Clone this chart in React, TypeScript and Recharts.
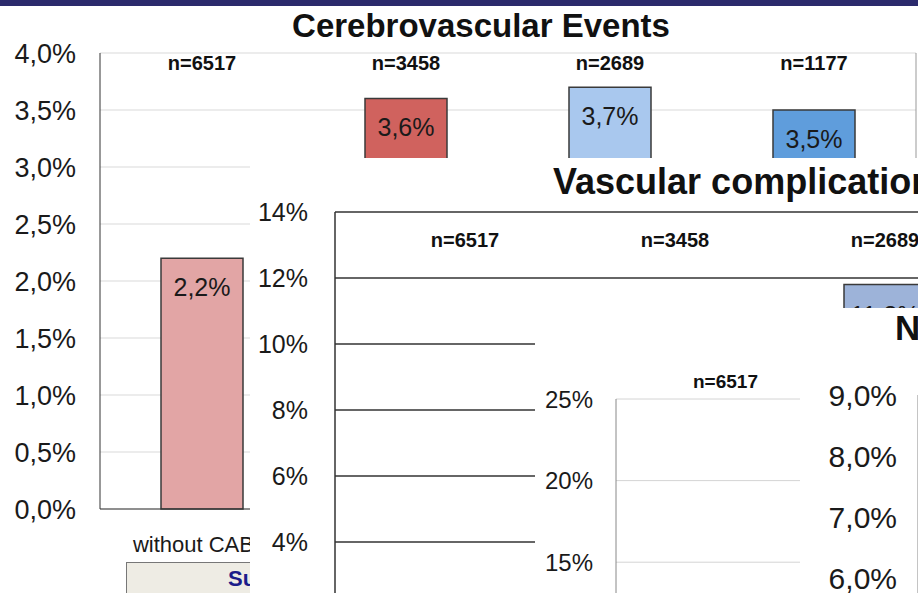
import React from "react";
import {
  Bar,
  BarChart,
  CartesianGrid,
  Cell,
  LabelList,
  XAxis,
  YAxis,
} from "recharts";

// shared categories (same patient groups in every panel)
const groups = ["without CABG", "with CABG", "CABG < 1 year", "CABG ≥ 1 year"];
const groupSizes = ["n=6517", "n=3458", "n=2689", "n=1177"];

const cerebroValues = [2.2, 3.6, 3.7, 3.5];
const cerebroTicks = [0, 0.5, 1, 1.5, 2, 2.5, 3, 3.5, 4];
const cerebroColors = ["#e2a5a5", "#d0625e", "#a9c8ee", "#5f9ddc"];

const vascularValues = [2.1, 9.8, 11.8, 10.6];
const vascularTicks = [0, 2, 4, 6, 8, 10, 12, 14];
const vascularColors = ["#dca2a2", "#c9615d", "#9db3d9", "#5b8fce"];

const thirdValues = [10.8, 12.4, 12.9, 11.7];
const thirdTicks = [0, 5, 10, 15, 20, 25];

const fourthValues = [6.4, 7.6, 8.2, 7.3];
const fourthTicks = [0, 1, 2, 3, 4, 5, 6, 7, 8, 9];

const FONT = "'Liberation Sans', Arial, sans-serif";

const rows = (values: number[]) =>
  groups.map((g, i) => ({ group: g, n: groupSizes[i], v: values[i] }));

const pctComma = (v: number) => v.toFixed(1).replace(".", ",") + "%";
const pctInt = (v: number) => `${v}%`;

// "n=" labels sit at a fixed height relative to the plot top, centred on each bar
const nLabel = (plotTop: number, dy: number, size: number) => (props: any) => {
  const vb = props.viewBox || props;
  const x = Number(vb.x) + Number(vb.width) / 2;
  return (
    <text
      x={x}
      y={plotTop + dy}
      textAnchor="middle"
      fontSize={size}
      fontWeight="bold"
      fontFamily={FONT}
      fill="#111"
    >
      {props.value}
    </text>
  );
};

const panel = (left: number, top: number, width: number, height: number) =>
  ({
    position: "absolute",
    left,
    top,
    width,
    height,
    overflow: "hidden",
    background: "#fff",
  }) as React.CSSProperties;

const title = (left: number, top: number, size: number, text: string) => (
  <div
    style={{
      position: "absolute",
      left,
      top,
      whiteSpace: "nowrap",
      fontFamily: FONT,
      fontWeight: "bold",
      fontSize: size,
      lineHeight: 1,
      color: "#111",
      zIndex: 2,
    }}
  >
    {text}
  </div>
);

const App = () => {
  return (
    <div
      style={{
        position: "absolute",
        left: 0,
        top: 0,
        width: 918,
        height: 593,
        overflow: "hidden",
        background: "#fff",
      }}
    >
      <div style={{ position: "absolute", left: 0, top: 0, width: 918, height: 6, background: "#2b2a6c" }} />

      {/* Cerebrovascular Events */}
      <div style={panel(0, 6, 918, 587)}>
        <div style={{ position: "absolute", left: 0, width: 918, top: 3, textAlign: "center", paddingLeft: 44, boxSizing: "border-box", fontFamily: FONT, fontWeight: "bold", fontSize: 33, lineHeight: 1, color: "#111", zIndex: 2 }}>
          Cerebrovascular Events
        </div>
        <BarChart
          width={918}
          height={587}
          data={rows(cerebroValues)}
          margin={{ top: 47, right: 0, left: 0, bottom: 24 }}
          barSize={82}
        >
          <CartesianGrid vertical={false} stroke="#d9d9d9" />
          <XAxis
            dataKey="group"
            height={60}
            interval={0}
            tickLine={false}
            tickMargin={21}
            axisLine={{ stroke: "#333" }}
            tick={{ fontSize: 22, fill: "#1a1a1a", fontFamily: FONT }}
          />
          <YAxis
            domain={[0, 4]}
            ticks={cerebroTicks}
            width={100}
            tickSize={0}
            tickMargin={24}
            tickFormatter={pctComma}
            axisLine={{ stroke: "#333" }}
            tick={{ fontSize: 27, fill: "#1a1a1a", fontFamily: FONT }}
          />
          <YAxis yAxisId="r" orientation="right" width={2} tick={false} axisLine={{ stroke: "#999" }} />
          <Bar dataKey="v" stroke="#3a3a3a" strokeWidth={1.5} isAnimationActive={false}>
            {cerebroColors.map((c, i) => (
              <Cell key={i} fill={c} />
            ))}
            <LabelList
              dataKey="v"
              position="insideTop"
              offset={20}
              formatter={(v: any) => pctComma(Number(v))}
              fill="#1a1a1a"
              fontSize={25}
              fontFamily={FONT}
            />
            <LabelList dataKey="n" content={nLabel(47, 17, 20)} />
          </Bar>
        </BarChart>
        <div style={{ position: "absolute", left: 126, top: 556, width: 300, height: 40, background: "#eeece4", border: "1px solid #777" }}>
          <span style={{ position: "absolute", left: 101, top: 5, fontFamily: FONT, fontWeight: "bold", fontSize: 22, lineHeight: 1, color: "#1c1c8a", whiteSpace: "nowrap" }}>
            Surgical risk
          </span>
        </div>
      </div>

      {/* Vascular complications */}
      <div style={panel(250, 158, 668, 435)}>
        {title(303, 6, 36, "Vascular complications")}
        <BarChart
          width={950}
          height={560}
          data={rows(vascularValues)}
          margin={{ top: 54, right: 0, left: 0, bottom: 14 }}
          barSize={82}
        >
          <CartesianGrid vertical={false} stroke="#333" strokeWidth={1.5} />
          <XAxis dataKey="group" height={30} interval={0} padding={{ left: 25 }} tickLine={false} axisLine={{ stroke: "#333" }} tick={{ fontSize: 22, fontFamily: FONT }} />
          <YAxis
            domain={[0, 14]}
            ticks={vascularTicks}
            width={85}
            tickSize={0}
            tickMargin={27}
            tickFormatter={pctInt}
            axisLine={{ stroke: "#333", strokeWidth: 1.5 }}
            tick={{ fontSize: 25, fill: "#1a1a1a", fontFamily: FONT }}
          />
          <Bar dataKey="v" stroke="#3a3a3a" strokeWidth={1.5} isAnimationActive={false}>
            {vascularColors.map((c, i) => (
              <Cell key={i} fill={c} />
            ))}
            <LabelList
              dataKey="v"
              position="insideTop"
              offset={22}
              formatter={(v: any) => pctComma(Number(v))}
              fill="#1a1a1a"
              fontSize={25}
              fontFamily={FONT}
            />
            <LabelList dataKey="n" content={nLabel(54, 35, 20)} />
          </Bar>
        </BarChart>
      </div>

      {/* third panel */}
      <div style={panel(535, 308, 383, 285)}>
        {title(360, 2, 35, "NYHA class III/IV")}
        <BarChart
          width={953}
          height={543}
          data={rows(thirdValues)}
          margin={{ top: 91, right: 0, left: 0, bottom: 14 }}
          barSize={87}
        >
          <CartesianGrid vertical={false} stroke="#d4d4d4" />
          <XAxis dataKey="group" height={30} interval={0} tickLine={false} axisLine={{ stroke: "#888" }} tick={{ fontSize: 20, fontFamily: FONT }} />
          <XAxis
            xAxisId="top"
            orientation="top"
            height={0}
            tick={false}
            axisLine={{ stroke: "#888" }}
          />
          <YAxis
            domain={[0, 25]}
            ticks={thirdTicks}
            width={81}
            tickSize={0}
            tickMargin={23}
            tickFormatter={pctInt}
            axisLine={{ stroke: "#888" }}
            tick={{ fontSize: 24, fill: "#1a1a1a", fontFamily: FONT }}
          />
          <Bar dataKey="v" stroke="#3a3a3a" strokeWidth={1.5} isAnimationActive={false}>
            {cerebroColors.map((c, i) => (
              <Cell key={i} fill={c} />
            ))}
            <LabelList dataKey="n" content={nLabel(91, -11, 19)} />
          </Bar>
        </BarChart>
      </div>

      {/* fourth panel */}
      <div style={panel(800, 355, 118, 238)}>
        <BarChart
          width={918}
          height={629}
          data={rows(fourthValues)}
          margin={{ top: 40, right: 0, left: 0, bottom: 10 }}
          barSize={80}
        >
          <CartesianGrid vertical={false} stroke="#d4d4d4" />
          <XAxis dataKey="group" height={30} interval={0} tickLine={false} tick={{ fontSize: 20, fontFamily: FONT }} />
          <YAxis
            domain={[0, 9]}
            ticks={fourthTicks}
            width={118}
            tickSize={0}
            tickMargin={21}
            tickFormatter={pctComma}
            axisLine={{ stroke: "#888" }}
            tick={{ fontSize: 30, fill: "#1a1a1a", fontFamily: FONT }}
          />
          <Bar dataKey="v" stroke="#3a3a3a" strokeWidth={1.5} isAnimationActive={false}>
            {cerebroColors.map((c, i) => (
              <Cell key={i} fill={c} />
            ))}
          </Bar>
        </BarChart>
      </div>
    </div>
  );
};

export default App;
